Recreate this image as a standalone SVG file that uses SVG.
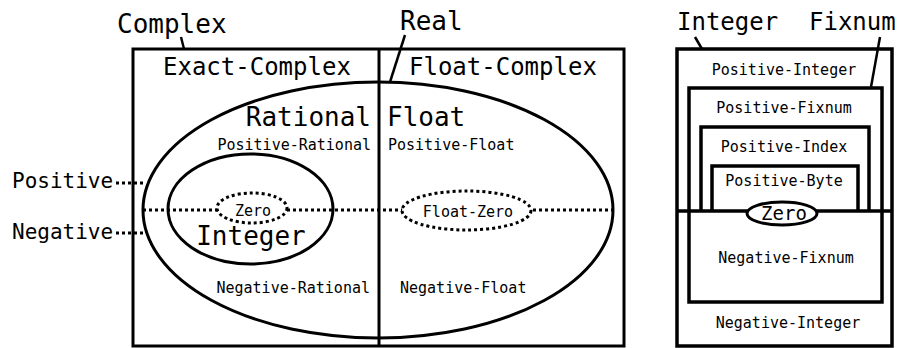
<svg xmlns="http://www.w3.org/2000/svg" width="899" height="348" viewBox="0 0 899 348">
<style>
text{font-family:"DejaVu Sans Mono","Liberation Mono",monospace;fill:#000}
.s{fill:none;stroke:#000;stroke-width:3}
.w{fill:#fff;stroke:#000;stroke-width:3}
.b{fill:none;stroke:#000;stroke-width:3.5}
.d{fill:none;stroke:#000;stroke-width:3;stroke-dasharray:3 3}
.dw{fill:#fff;stroke:#000;stroke-width:3;stroke-dasharray:3 3}
.l{stroke:#000;stroke-width:2.5;fill:none}
.big{font-size:26px}
.mid{font-size:24px}
.sm{font-size:15px}
.c{text-anchor:middle}
</style>
<rect x="0" y="0" width="899" height="348" fill="#fff"/>
<g id="complex">
<rect class="s" x="133" y="49" width="491" height="297"/>
<text class="big" x="117" y="33">Complex</text>
</g>
<g id="real-divider">
<line class="s" x1="379" y1="49" x2="379" y2="346"/>
<text class="big" x="400" y="30">Real</text>
</g>
<g id="exact-complex"><text class="mid" x="163" y="75">Exact-Complex</text></g>
<g id="float-complex"><text class="mid" x="409" y="75">Float-Complex</text></g>
<g id="real-ellipse">
<ellipse class="s" cx="378" cy="210" rx="235" ry="128"/>
</g>
<g id="rational">
<text class="big" x="371" y="126" text-anchor="end">Rational</text>
<text class="sm" x="371" y="150" text-anchor="end">Positive-Rational</text>
<text class="sm" x="370" y="293" text-anchor="end">Negative-Rational</text>
</g>
<g id="float">
<text class="big" x="387" y="126">Float</text>
<text class="sm" x="388" y="150">Positive-Float</text>
<text class="sm" x="400" y="293">Negative-Float</text>
</g>
<g id="connectors">
<line class="d" x1="143" y1="210" x2="613" y2="210"/>
<line class="d" x1="116" y1="183" x2="146" y2="183"/>
<line class="d" x1="116" y1="233" x2="146" y2="233"/>
<line class="l" x1="181" y1="37" x2="184" y2="49"/>
<line class="l" x1="405" y1="35" x2="390" y2="82"/>
<line class="l" x1="695" y1="37" x2="702" y2="49"/>
<line class="l" x1="880" y1="37" x2="871" y2="87"/>
</g>
<g id="integer-ellipse">
<ellipse class="s" cx="250.5" cy="209" rx="82.5" ry="55"/>
<text class="big" x="251" y="245" text-anchor="middle">Integer</text>
</g>
<g id="zero">
<ellipse class="dw" cx="252" cy="208" rx="35" ry="15"/>
<text class="sm c" x="253" y="216">Zero</text>
</g>
<g id="float-zero">
<ellipse class="dw" cx="466.5" cy="210.5" rx="64.5" ry="19.5"/>
<text class="sm c" x="468" y="217">Float-Zero</text>
</g>
<g id="positive"><text x="12" y="188" font-size="21">Positive</text></g>
<g id="negative"><text x="12" y="239" font-size="21">Negative</text></g>
<g id="integer-box">
<rect class="b" x="677" y="49" width="215" height="297"/>
<text class="mid" x="677" y="30">Integer</text>
<text class="sm c" x="784" y="75">Positive-Integer</text>
<text class="sm c" x="788" y="328">Negative-Integer</text>
</g>
<g id="fixnum-box">
<rect class="b" x="689" y="88" width="193" height="214"/>
<text class="mid" x="809" y="30">Fixnum</text>
<text class="sm c" x="784" y="113">Positive-Fixnum</text>
<text class="sm c" x="786" y="263">Negative-Fixnum</text>
</g>
<g id="positive-index">
<path class="b" d="M701 211V127H869V211"/>
<text class="sm c" x="784" y="152">Positive-Index</text>
</g>
<g id="positive-byte">
<path class="b" d="M712 211V166H858V211"/>
<text class="sm c" x="784" y="186">Positive-Byte</text>
</g>
<g id="sign-line">
<line class="b" x1="677" y1="211" x2="892" y2="211"/>
</g>
<g id="fixnum-zero">
<ellipse class="w" cx="782" cy="213.5" rx="35" ry="11.5"/>
<text class="c" x="784" y="220" font-size="19">Zero</text>
</g>
</svg>
